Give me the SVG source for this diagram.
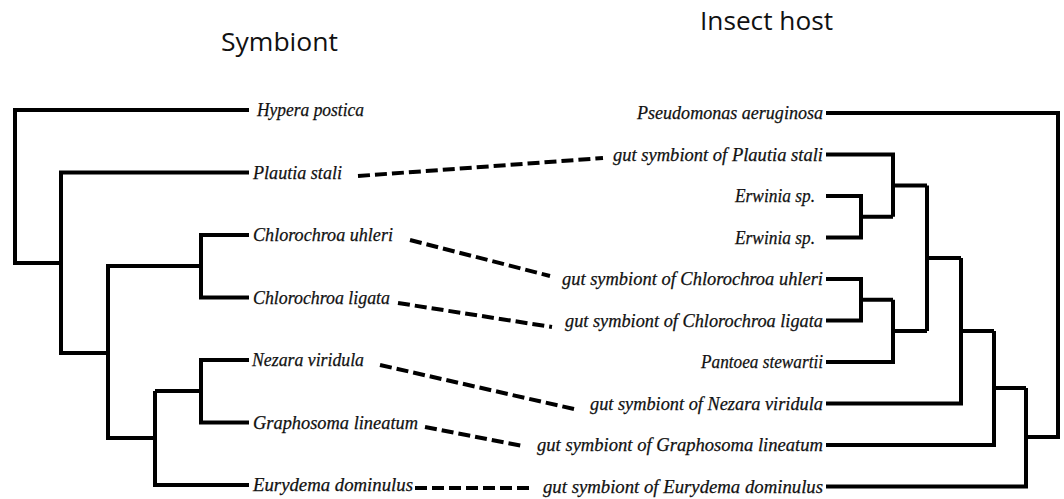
<svg xmlns="http://www.w3.org/2000/svg" width="1064" height="499" viewBox="0 0 1064 499">
<style>
.tree{fill:none;stroke:#000;stroke-width:4;stroke-linejoin:miter;stroke-linecap:butt}
.dash{fill:none;stroke:#000;stroke-width:4;stroke-dasharray:12 5}
.lab{font-family:"Liberation Serif","Times New Roman",serif;font-style:italic;font-size:18.5px;fill:#111;stroke:#111;stroke-width:0.25}
.title{font-family:"Open Sans","Liberation Sans",sans-serif;font-size:25px;fill:#111}
</style>
<rect width="1064" height="499" fill="#fff"/>
<g id="titles">
<text class="title" x="221" y="51" textLength="117" lengthAdjust="spacingAndGlyphs">Symbiont</text>
<text class="title" x="700" y="30" textLength="133" lengthAdjust="spacingAndGlyphs">Insect host</text>
</g>
<g id="left-tree">
<g id="L-root"><path class="tree" d="M249 110 H15 V263 H61"/></g>
<g id="L-P"><path class="tree" d="M249 172.5 H61 V353 H108"/></g>
<g id="L-Q"><path class="tree" d="M201 266 H108 V438 H155"/></g>
<g id="L-R"><path class="tree" d="M249 235 H201 V297.5 H249"/></g>
<g id="L-S"><path class="tree" d="M249 360 H201 V422.5 H249 M201 391 H155"/></g>
<g id="L-T"><path class="tree" d="M155 391 V485 H249"/></g>
</g>
<g id="right-tree">
<g id="R-root"><path class="tree" d="M826 113 H1058 V437 H1026"/></g>
<g id="R-A"><path class="tree" d="M826 196 H861 V237.5 H826 M861 216.75 H893"/></g>
<g id="R-B"><path class="tree" d="M826 154.5 H893 V216.75 M893 185.6 H927"/></g>
<g id="R-C"><path class="tree" d="M826 279 H861 V320.5 H826 M861 299.75 H893"/></g>
<g id="R-D"><path class="tree" d="M893 299.75 V362 H826 M893 331 H927"/></g>
<g id="R-E"><path class="tree" d="M927 185.6 V331 M927 258 H961"/></g>
<g id="R-F"><path class="tree" d="M961 258 V403.5 H826 M961 331 H994"/></g>
<g id="R-G"><path class="tree" d="M994 331 V445 H826 M994 388 H1026"/></g>
<g id="R-H"><path class="tree" d="M1026 388 V486.5 H826"/></g>
</g>
<g id="left-labels">
<text class="lab" x="257" y="116" textLength="107" lengthAdjust="spacingAndGlyphs">Hypera postica</text>
<text class="lab" x="253" y="178.5" textLength="89" lengthAdjust="spacingAndGlyphs">Plautia stali</text>
<text class="lab" x="253" y="241" textLength="140" lengthAdjust="spacingAndGlyphs">Chlorochroa uhleri</text>
<text class="lab" x="253" y="303.5" textLength="137" lengthAdjust="spacingAndGlyphs">Chlorochroa ligata</text>
<text class="lab" x="252" y="366" textLength="112" lengthAdjust="spacingAndGlyphs">Nezara viridula</text>
<text class="lab" x="253" y="428.5" textLength="165" lengthAdjust="spacingAndGlyphs">Graphosoma lineatum</text>
<text class="lab" x="253" y="491" textLength="160" lengthAdjust="spacingAndGlyphs">Eurydema dominulus</text>
</g>
<g id="right-labels">
<text class="lab" x="637" y="119" textLength="186" lengthAdjust="spacingAndGlyphs">Pseudomonas aeruginosa</text>
<text class="lab" x="613" y="160.5" textLength="210" lengthAdjust="spacingAndGlyphs">gut symbiont of Plautia stali</text>
<text class="lab" x="735" y="202" textLength="80" lengthAdjust="spacingAndGlyphs">Erwinia sp.</text>
<text class="lab" x="735" y="243.5" textLength="80" lengthAdjust="spacingAndGlyphs">Erwinia sp.</text>
<text class="lab" x="562" y="285" textLength="261" lengthAdjust="spacingAndGlyphs">gut symbiont of Chlorochroa uhleri</text>
<text class="lab" x="565" y="326.5" textLength="258" lengthAdjust="spacingAndGlyphs">gut symbiont of Chlorochroa ligata</text>
<text class="lab" x="701" y="368" textLength="122" lengthAdjust="spacingAndGlyphs">Pantoea stewartii</text>
<text class="lab" x="590" y="409.5" textLength="233" lengthAdjust="spacingAndGlyphs">gut symbiont of Nezara viridula</text>
<text class="lab" x="537" y="451" textLength="286" lengthAdjust="spacingAndGlyphs">gut symbiont of Graphosoma lineatum</text>
<text class="lab" x="543" y="492.5" textLength="280" lengthAdjust="spacingAndGlyphs">gut symbiont of Eurydema dominulus</text>
</g>
<g id="connectors">
<path class="dash" d="M358 176 L603 158"/>
<path class="dash" d="M410 240 L550 276"/>
<path class="dash" d="M398 303 L552 327"/>
<path class="dash" d="M380 365 L574 409"/>
<path class="dash" d="M425 427 L523 446"/>
<path class="dash" d="M415 488 L532 488"/>
</g>
</svg>
